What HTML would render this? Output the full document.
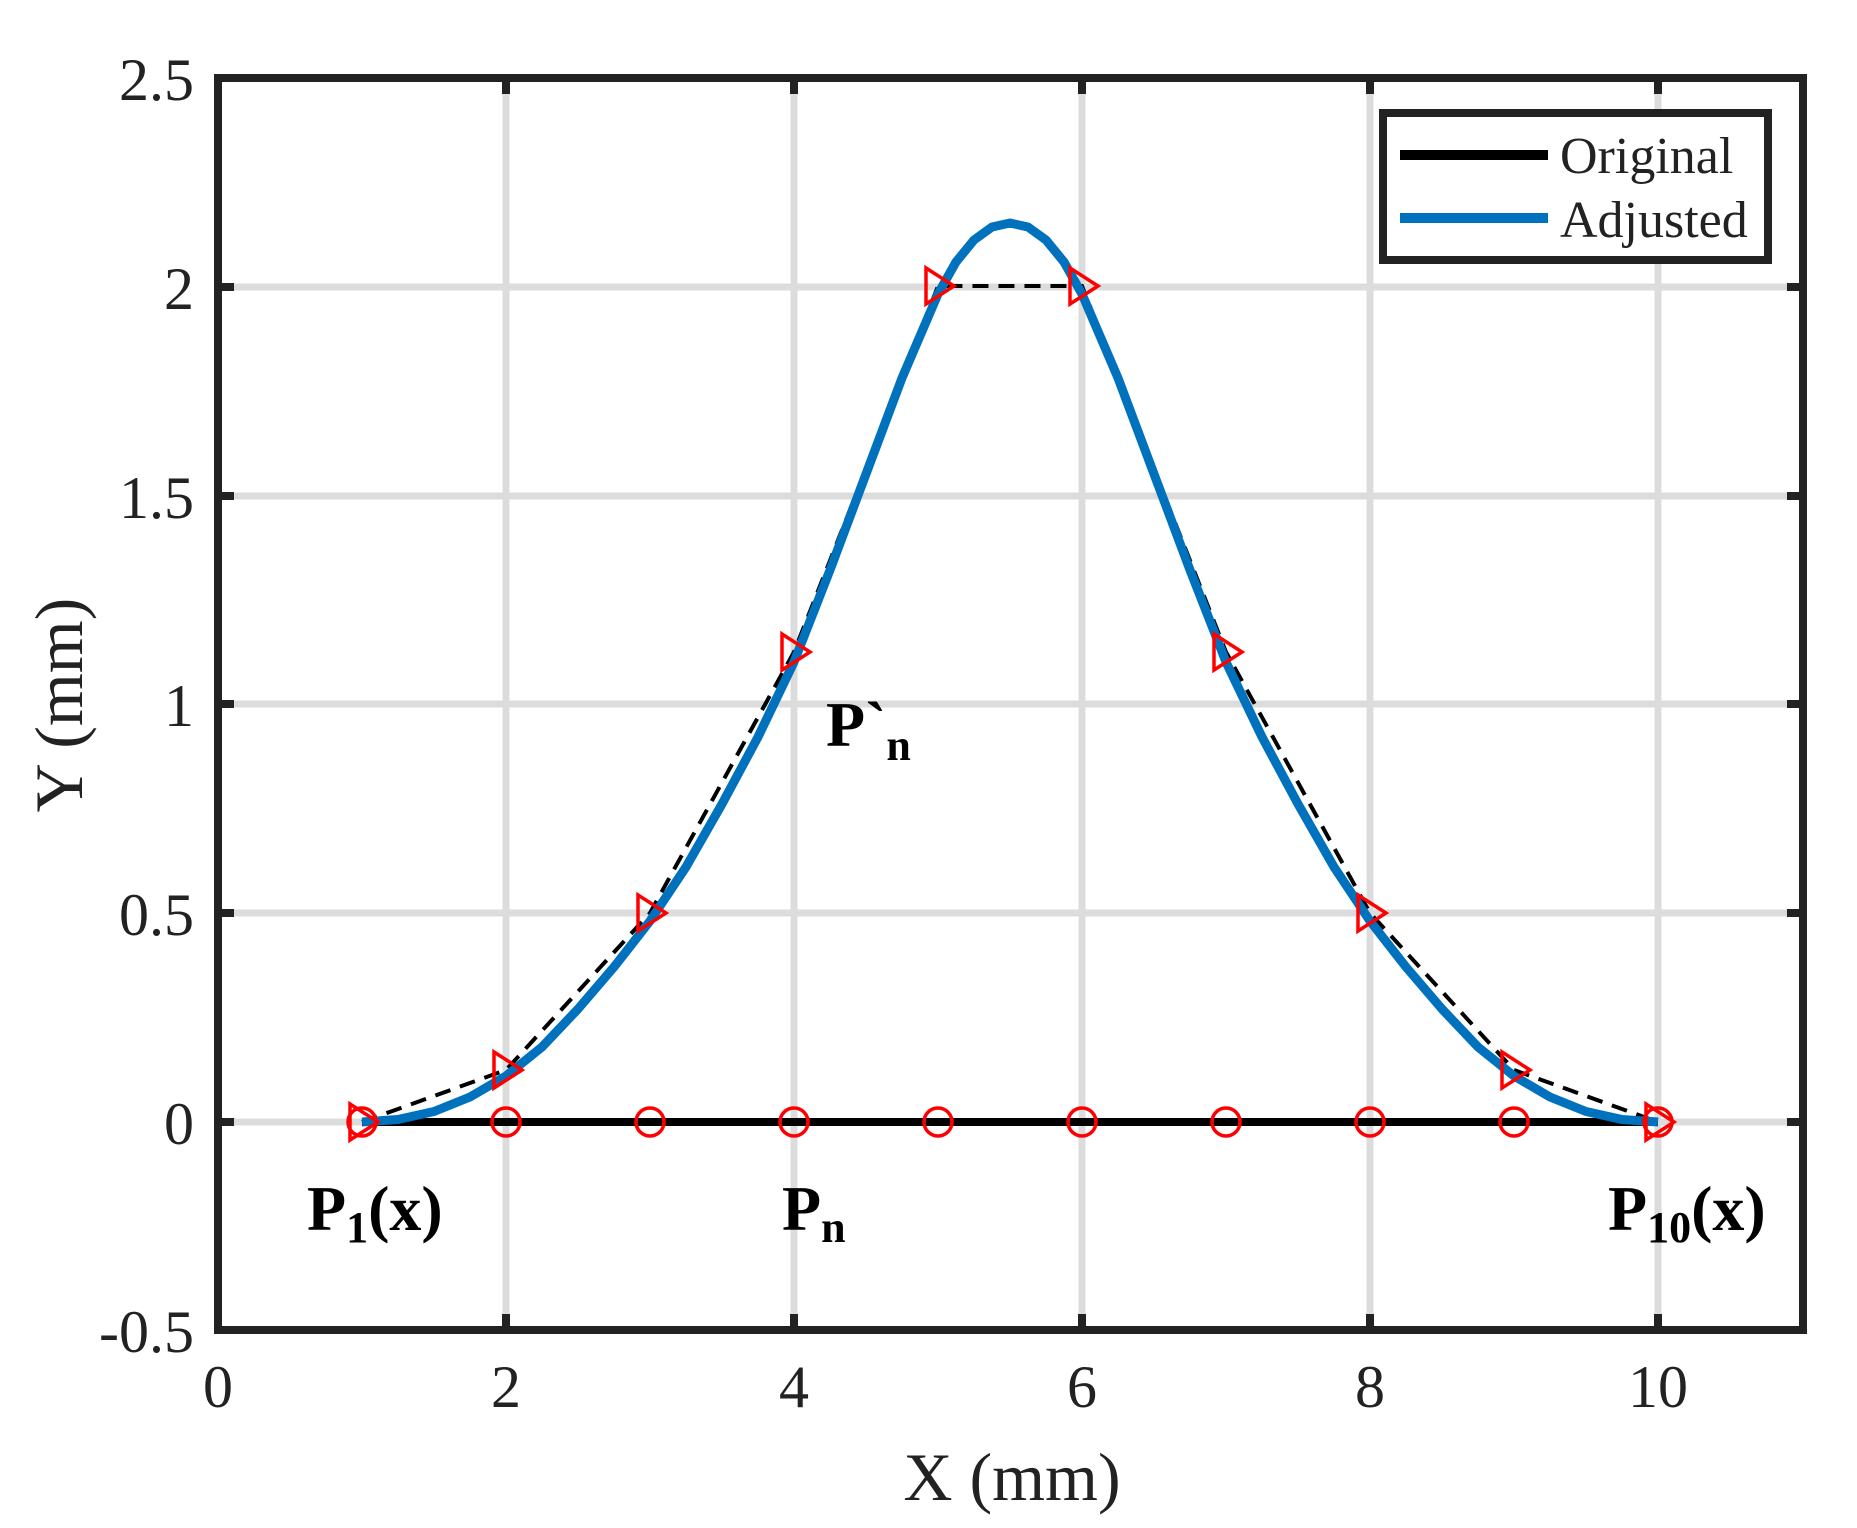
<!DOCTYPE html>
<html><head><meta charset="utf-8"><style>
html,body{margin:0;padding:0;background:#fff;}
svg{display:block;}
text{font-family:"Liberation Serif",serif;fill:#222;}
</style></head><body>
<svg width="1857" height="1528" viewBox="0 0 1857 1528" xmlns="http://www.w3.org/2000/svg">
<g stroke="#dcdcdc" stroke-width="7">
<line x1="506" y1="78" x2="506" y2="1330"/><line x1="794" y1="78" x2="794" y2="1330"/>
<line x1="1082" y1="78" x2="1082" y2="1330"/><line x1="1370" y1="78" x2="1370" y2="1330"/>
<line x1="1658" y1="78" x2="1658" y2="1330"/>
<line x1="218" y1="287" x2="1803" y2="287"/><line x1="218" y1="496" x2="1803" y2="496"/>
<line x1="218" y1="704" x2="1803" y2="704"/><line x1="218" y1="913" x2="1803" y2="913"/>
<line x1="218" y1="1122" x2="1803" y2="1122"/>
</g>
<g stroke="#222" stroke-width="8">
<path d="M506 78v16M794 78v16M1082 78v16M1370 78v16M1658 78v16M506 1330v-16M794 1330v-16M1082 1330v-16M1370 1330v-16M1658 1330v-16"/>
<path d="M218 287h16M218 496h16M218 704h16M218 913h16M218 1122h16M1803 287h-16M1803 496h-16M1803 704h-16M1803 913h-16M1803 1122h-16"/>
</g>
<line x1="362" y1="1122" x2="1658" y2="1122" stroke="#000" stroke-width="8"/>
<path d="M362 1122 L506 1070 L650 913 L794 652 L938 286 L1082 286 L1226 652 L1370 913 L1514 1070 L1658 1122" fill="none" stroke="#000" stroke-width="4" stroke-dasharray="16 10"/>
<polyline fill="none" stroke="#0072BD" stroke-width="9" stroke-linejoin="round" points="362,1122 398,1119.5 434,1111.5 470,1097 506,1076 542,1047 578,1009 614,967 650,921 686,867 722,804 758,737 794,662 830,570 866,474 902,378 938,294 956,262 974,240 992,227 1010,223 1028,227 1046,240 1064,262 1082,294 1118,378 1154,474 1190,570 1226,662 1262,737 1298,804 1334,867 1370,921 1406,967 1442,1009 1478,1047 1514,1076 1550,1097 1586,1111.5 1622,1119.5 1658,1122"/>
<g fill="none" stroke="#f00" stroke-width="3.5">
<circle cx="362" cy="1122" r="14"/><circle cx="506" cy="1122" r="14"/><circle cx="650" cy="1122" r="14"/>
<circle cx="794" cy="1122" r="14"/><circle cx="938" cy="1122" r="14"/><circle cx="1082" cy="1122" r="14"/>
<circle cx="1226" cy="1122" r="14"/><circle cx="1370" cy="1122" r="14"/><circle cx="1514" cy="1122" r="14"/>
<circle cx="1658" cy="1122" r="14"/>
<path d="M350 1104 L378 1122 L350 1140 Z"/>
<path d="M494 1052 L522 1070 L494 1088 Z"/>
<path d="M638 895 L666 913 L638 931 Z"/>
<path d="M782 634 L810 652 L782 670 Z"/>
<path d="M926 268 L954 286 L926 304 Z"/>
<path d="M1070 268 L1098 286 L1070 304 Z"/>
<path d="M1214 634 L1242 652 L1214 670 Z"/>
<path d="M1358 895 L1386 913 L1358 931 Z"/>
<path d="M1502 1052 L1530 1070 L1502 1088 Z"/>
<path d="M1646 1104 L1674 1122 L1646 1140 Z"/>
</g>
<rect x="218" y="78" width="1585" height="1252" fill="none" stroke="#222" stroke-width="8"/>
<rect x="1383" y="113" width="385" height="147" fill="#fff" stroke="#222" stroke-width="8"/>
<line x1="1400" y1="155" x2="1548" y2="155" stroke="#000" stroke-width="10"/>
<line x1="1400" y1="218" x2="1548" y2="218" stroke="#0072BD" stroke-width="10"/>
<text x="1560" y="173" font-size="52">Original</text>
<text x="1560" y="237" font-size="52">Adjusted</text>
<g font-size="60" text-anchor="end">
<text x="194" y="100">2.5</text><text x="194" y="309">2</text><text x="194" y="518">1.5</text>
<text x="194" y="726">1</text><text x="194" y="935">0.5</text><text x="194" y="1144">0</text>
<text x="194" y="1352">-0.5</text>
</g>
<g font-size="60" text-anchor="middle">
<text x="218" y="1407">0</text><text x="506" y="1407">2</text><text x="794" y="1407">4</text>
<text x="1082" y="1407">6</text><text x="1370" y="1407">8</text><text x="1658" y="1407">10</text>
</g>
<text x="1012" y="1500" font-size="68" text-anchor="middle">X (mm)</text>
<text transform="translate(82,705) rotate(-90)" font-size="68" text-anchor="middle">Y (mm)</text>
<g font-weight="bold" font-size="64">
<text x="307" y="1230" style="fill:#000">P<tspan font-size="44" dy="12">1</tspan><tspan dy="-12">(x)</tspan></text>
<text x="782" y="1230" style="fill:#000">P<tspan font-size="44" dy="12">n</tspan></text>
<text x="1608" y="1230" style="fill:#000">P<tspan font-size="44" dy="12">10</tspan><tspan dy="-12">(x)</tspan></text>
<text x="826" y="746" style="fill:#000">P`<tspan font-size="44" dy="14">n</tspan></text>
</g>
</svg>
</body></html>
